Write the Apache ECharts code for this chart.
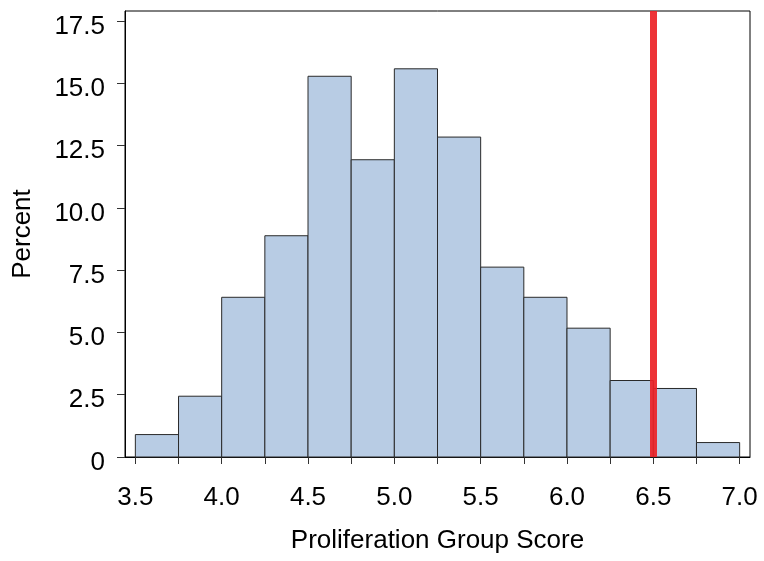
<!DOCTYPE html>
<html>
<head>
<meta charset="utf-8">
<script src="https://cdn.jsdelivr.net/npm/echarts@6/dist/echarts.min.js"></script>
<style>html,body{margin:0;padding:0;background:#fff;}#chart{width:764px;height:561px;}</style>
</head>
<body>
<div id="chart"></div>
<script>
// Histogram bins (lower edge, upper edge) and percent heights
var binStart = [3.5, 3.75, 4.0, 4.25, 4.5, 4.75, 5.0, 5.25, 5.5, 5.75, 6.0, 6.25, 6.5, 6.75];
var binEnd   = [3.75, 4.0, 4.25, 4.5, 4.75, 5.0, 5.25, 5.5, 5.75, 6.0, 6.25, 6.5, 6.75, 7.0];
var percent  = [0.9, 2.44, 6.41, 8.88, 15.28, 11.93, 15.58, 12.84, 7.62, 6.41, 5.17, 3.07, 2.75, 0.58];
var cutoff = 6.5;
var xTicks = [3.5, 3.75, 4.0, 4.25, 4.5, 4.75, 5.0, 5.25, 5.5, 5.75, 6.0, 6.25, 6.5, 6.75, 7.0];
var xLabels = [3.5, 4.0, 4.5, 5.0, 5.5, 6.0, 6.5, 7.0];
var yTicks = [0, 2.5, 5, 7.5, 10, 12.5, 15, 17.5];

var data = binStart.map(function (s, i) { return [s, binEnd[i], percent[i]]; });
var font = 'Liberation Sans, Arial, sans-serif';

var chart = echarts.init(document.getElementById('chart'));
chart.setOption({
  animation: false,
  grid: { left: 125, right: 14, top: 11, bottom: 104, show: true, borderColor: '#000', borderWidth: 1, backgroundColor: 'transparent' },
  xAxis: {
    type: 'value', min: 3.44, max: 7.06,
    name: 'Proliferation Group Score', nameLocation: 'middle', nameGap: 71,
    nameTextStyle: { fontFamily: font, fontSize: 26, color: '#000' },
    axisLine: { show: true, lineStyle: { color: '#000', width: 1 } },
    axisTick: { show: true, length: 7, customValues: xTicks, lineStyle: { color: '#333' } },
    axisLabel: { customValues: xLabels, margin: 28, fontFamily: font, fontSize: 26, color: '#000',
      formatter: function (v) { return v.toFixed(1); } },
    splitLine: { show: false }
  },
  yAxis: {
    type: 'value', min: 0, max: 17.9,
    name: 'Percent', nameLocation: 'middle', nameGap: 89,
    nameTextStyle: { fontFamily: font, fontSize: 26, color: '#000' },
    axisLine: { show: true, lineStyle: { color: '#000', width: 1 } },
    axisTick: { show: true, length: 8, customValues: yTicks, lineStyle: { color: '#333' } },
    axisLabel: { customValues: yTicks, margin: 20, fontFamily: font, fontSize: 26, color: '#000',
      verticalAlign: 'top', lineHeight: 11,
      formatter: function (v) { return v === 0 ? '0' : v.toFixed(1); } },
    splitLine: { show: false }
  },
  series: [{
    type: 'custom',
    data: data,
    encode: { x: [0, 1], y: 2 },
    renderItem: function (params, api) {
      var p0 = api.coord([api.value(0), api.value(2)]);
      var p1 = api.coord([api.value(1), 0]);
      return {
        type: 'rect',
        shape: { x: p0[0], y: p0[1], width: p1[0] - p0[0], height: p1[1] - p0[1] },
        style: { fill: '#b8cce4', stroke: '#2a2a2a', lineWidth: 1 }
      };
    },
    markLine: {
      silent: true, symbol: 'none', label: { show: false },
      lineStyle: { color: '#ec2226', width: 7, type: 'solid', opacity: 0.92 },
      data: [{ xAxis: cutoff }]
    },
    z: 2
  }]
});
</script>
</body>
</html>
